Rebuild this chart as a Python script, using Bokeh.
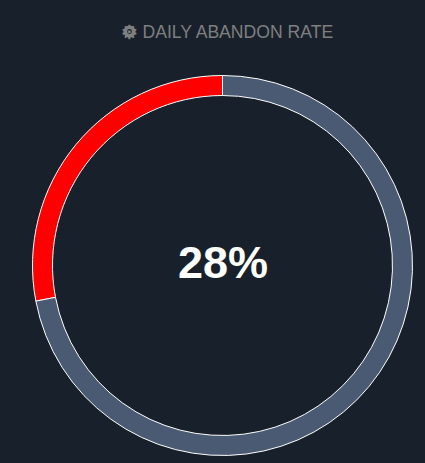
import numpy as np
from bokeh.plotting import figure
from bokeh.models import ColumnDataSource, Range1d
from bokeh.core.properties import value
from bokeh.embed import file_html
from bokeh.resources import INLINE

labels = ["Abandoned", "Completed"]
values = [28, 72]
colors = ["#ff0000", "#4a5a72"]
title = "DAILY ABANDON RATE"
center_label = "28%"

BG = "#18212b"
W, H = 425, 463

frac = np.array(values) / sum(values)
ends = np.pi / 2 + np.cumsum(frac) * 2 * np.pi
starts = np.concatenate([[np.pi / 2], ends[:-1]])

p = figure(width=W, height=H, output_backend="svg", toolbar_location=None,
           x_range=Range1d(0, W), y_range=Range1d(H, 0),
           min_border=0, outline_line_color=None,
           background_fill_color=BG, border_fill_color=BG)
p.axis.visible = False
p.grid.visible = False

src = ColumnDataSource(dict(label=labels, start=starts, end=ends, color=colors))
p.annular_wedge(x=222, y=265, inner_radius=170, outer_radius=190,
                start_angle="start", end_angle="end", direction="anticlock",
                fill_color="color", line_color="white", line_width=1, source=src)

p.text(x=[222.5], y=[262], text=[center_label], text_color="white",
       text_font=value("Liberation Sans"), text_font_style="bold",
       text_font_size="45px", text_align="center", text_baseline="middle")
# solid body of the cog icon, under the glyph
p.annulus(x=[129], y=[31], inner_radius=2.4, outer_radius=6, fill_color="#7f7f7f", line_color=None)
p.text(x=[129], y=[31], text=["\u2699"], text_color="#7f7f7f",
       text_font=value("DejaVu Sans"), text_font_style="bold", text_font_size="20px",
       text_align="center", text_baseline="middle")
p.text(x=[142], y=[31], text=[title], text_color="#7f7f7f",
       text_font=value("Liberation Sans"), text_font_size="17.6px",
       text_align="left", text_baseline="middle")

html = file_html(p, INLINE)
html = html.replace("<head>", f"<head><style>html,body{{background:{BG};overflow:hidden}}</style>", 1)
open("out.html", "w").write(html)
